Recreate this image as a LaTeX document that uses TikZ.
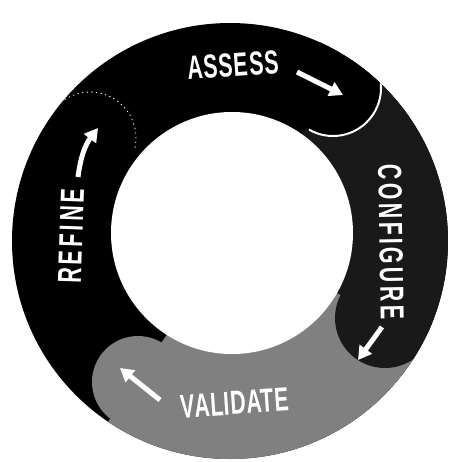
\documentclass[tikz,border=0pt]{standalone}
\usepackage{fontspec}
\usetikzlibrary{arrows.meta}
\newfontfamily\ringfont[FakeStretch=0.64]{Liberation Sans}
\definecolor{configdark}{gray}{0.1}
\definecolor{validgray}{gray}{0.5}
\tikzset{
  steplabel/.style={text=white,inner sep=0.75pt,font=\ringfont\bfseries\fontsize{25}{27}\selectfont},
  steparrow/.style={draw=white,line width=3.75pt,-{Triangle[width=11pt,length=10pt]}},
}

\begin{document}
\begin{tikzpicture}[x=0.75pt,y=0.75pt,yscale=-1,xscale=1]
\useasboundingbox (0,0) rectangle (453,462);

\coordinate (ctr) at (230,241);
\coordinate (hole) at (232,233);
\coordinate (assesscap) at (333,88);
\coordinate (configcap) at (385,318);
\coordinate (validcap) at (138,382);
\coordinate (refinecap) at (90,138);

%Shape: Ring
\fill[black] (ctr) circle (218);
\begin{scope}
\clip (ctr) circle (218);
%Shape: Band configure
\fill[configdark] (ctr) -- ++(-56:240) arc[start angle=-56,end angle=26,radius=240] -- cycle;
%Shape: Band validate
\fill[validgray] (ctr) -- ++(26:240) arc[start angle=26,end angle=124,radius=240] -- cycle;
%Shape: Caps
\fill[configdark] (configcap) circle (50);
\fill[validgray] (validcap) circle (46);
\fill[black] (assesscap) circle (48);
\draw[white,line width=1.5pt] (assesscap) ++(-50:48) arc[start angle=-50,end angle=120,radius=48];
\draw[white,line width=0.6pt,dash pattern=on 1pt off 2.5pt] (refinecap) ++(-135:46) arc[start angle=-135,end angle=15,radius=46];
\end{scope}
%Shape: Hole
\fill[white] (hole) circle (121);

% Text Node
\node[steplabel,rotate=4] (assess) at (233,65) {\addfontfeature{LetterSpace=3}ASSESS};
% Text Node
\node[steplabel,rotate=-89] (configure) at (391,242) {\addfontfeature{LetterSpace=10}CONFIGURE};
% Text Node
\node[steplabel,rotate=4] (validate) at (235,403) {\addfontfeature{LetterSpace=2}VALIDATE};
% Text Node
\node[steplabel,rotate=88] (refine) at (71,236) {\addfontfeature{LetterSpace=10}REFINE};

%Arrows
\coordinate (assessfrom) at (297,72);
\coordinate (assessto) at (343,95);
\coordinate (configfrom) at (382,327);
\coordinate (configto) at (358,360);
\coordinate (validfrom) at (160,400);
\coordinate (validto) at (120,368);
\coordinate (refinefrom) at (78,177);
\coordinate (refineto) at (98,128);
\draw[steparrow] (assessfrom) -- (assessto);
\draw[steparrow] (configfrom) -- (configto);
\draw[steparrow] (validfrom) -- (validto);
\draw[steparrow] (refinefrom) to[bend right=15] (refineto);
\end{tikzpicture}
\end{document}
